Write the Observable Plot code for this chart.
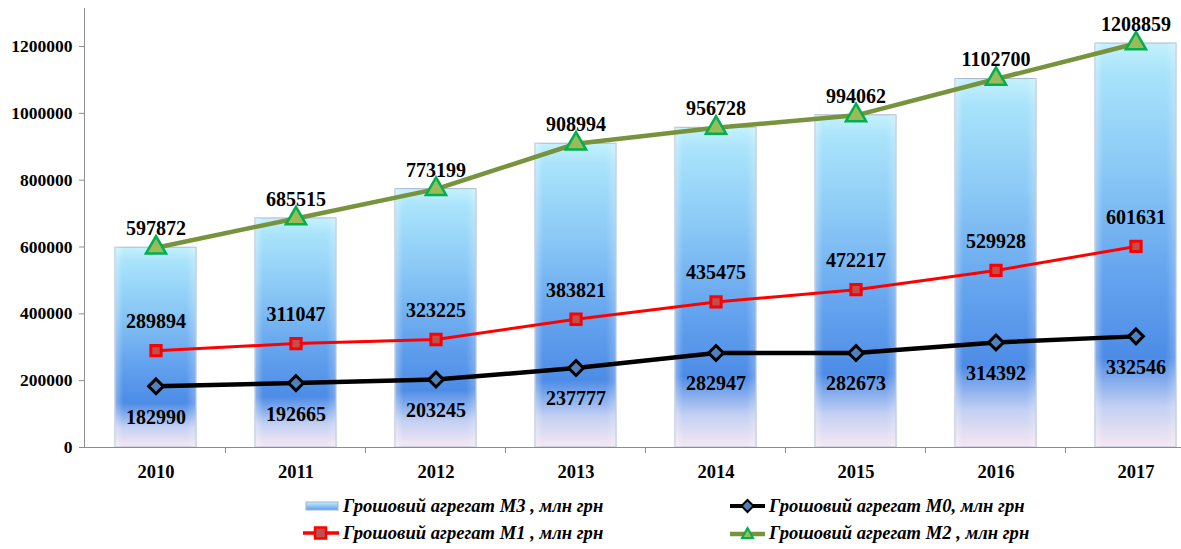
<!DOCTYPE html>
<html><head><meta charset="utf-8">
<script src="https://cdn.jsdelivr.net/npm/d3@7"></script>
<script src="https://cdn.jsdelivr.net/npm/@observablehq/plot@0.6"></script>
<style>
body{margin:0;background:#fff;font-family:"Liberation Serif","Times New Roman",serif;}
#wrap{position:relative;width:1181px;height:549px;}
#chart{position:absolute;left:0;top:0;}
.leg{position:absolute;display:flex;align-items:center;font-style:italic;font-weight:bold;font-size:18.6px;color:#000;white-space:nowrap;}
.leg svg{margin-right:3px;}
</style></head>
<body><div id="wrap"><div id="chart"></div>
<div class="leg" style="left:305px;top:495px"><svg width="35" height="14"><rect x="1" y="3" width="32" height="8" fill="url(#legGrad)" stroke="#9fb3cf" stroke-width="1"/><defs><linearGradient id="legGrad" x1="0" y1="0" x2="0" y2="1"><stop offset="0" stop-color="#c8f0fd"/><stop offset="1" stop-color="#5d9cec"/></linearGradient></defs></svg>Грошовий агрегат М3 , млн грн</div>
<div class="leg" style="left:729px;top:495px"><svg width="37" height="16"><line x1="1" y1="8" x2="36" y2="8" stroke="#000" stroke-width="4"/><path d="M18.5,2 L24.5,8 L18.5,14 L12.5,8Z" fill="#4f81bd" stroke="#000" stroke-width="2"/></svg>Грошовий агрегат М0, млн грн</div>
<div class="leg" style="left:302px;top:522px"><svg width="38" height="16"><line x1="1" y1="8" x2="37" y2="8" stroke="#ff0000" stroke-width="3.5"/><rect x="13" y="2.5" width="11" height="11" fill="#c0504d" stroke="#ff0000" stroke-width="2.5"/></svg>Грошовий агрегат М1 , млн грн</div>
<div class="leg" style="left:729px;top:522px"><svg width="37" height="16"><line x1="1" y1="9" x2="36" y2="9" stroke="#77933c" stroke-width="4.5"/><path d="M18.5,3 L24,13 L13,13Z" fill="#9bbb59" stroke="#00b050" stroke-width="2"/></svg>Грошовий агрегат М2 , млн грн</div>
</div>
<script>
const years = ["2010","2011","2012","2013","2014","2015","2016","2017"];
const m3 = [597872, 685515, 773199, 908994, 956728, 994062, 1102700, 1208859];
const m2 = [597872, 685515, 773199, 908994, 956728, 994062, 1102700, 1208859];
const m1 = [289894, 311047, 323225, 383821, 435475, 472217, 529928, 601631];
const m0 = [182990, 192665, 203245, 237777, 282947, 282673, 314392, 332546];
const yTicks = [0, 200000, 400000, 600000, 800000, 1000000, 1200000];

const rows = years.map((y, i) => ({year: y, m3: m3[i], m2: m2[i], m1: m1[i], m0: m0[i]}));
const font = "Liberation Serif, Times New Roman, serif";

// square rotated 45° (Excel-style diamond)
const diamond = {
  draw(ctx, size) {
    const r = Math.sqrt(size / Math.PI);
    ctx.moveTo(0, -r); ctx.lineTo(r, 0); ctx.lineTo(0, r); ctx.lineTo(-r, 0); ctx.closePath();
  }
};

const plot = Plot.plot({
  width: 1181,
  height: 490,
  marginLeft: 84,
  marginRight: 0,
  marginTop: 8,
  marginBottom: 43,
  style: {fontFamily: font, overflow: "visible", background: "transparent"},
  x: {domain: years, range: [84, 1207], paddingInner: 0.42, paddingOuter: 0.21, label: null},
  y: {domain: [0, 1313716], label: null},
  marks: [
    Plot.barY(rows, {x: "year", y: "m3", fill: "url(#barGrad)", stroke: "#a9b8cf", strokeWidth: 1}),
    Plot.barY(rows, {x: "year", y: "m3", fill: "url(#edgeGrad)"}),
    Plot.frame({anchor: "left", stroke: "#8c8c8c"}),
    Plot.frame({anchor: "bottom", stroke: "#8c8c8c"}),
    Plot.axisY({ticks: yTicks, tickFormat: d => String(d), tickSize: 5, tickPadding: 7, stroke: "#8c8c8c", fontSize: 17.5, fontWeight: "bold", fill: "#000"}),
    Plot.axisX({tickSize: 0, tickPadding: 17, fontSize: 18.5, fontWeight: "bold", fill: "#000"}),
    Plot.line(rows, {x: "year", y: "m2", stroke: "#77933c", strokeWidth: 4.5}),
    Plot.line(rows, {x: "year", y: "m1", stroke: "#ff0000", strokeWidth: 3}),
    Plot.line(rows, {x: "year", y: "m0", stroke: "#000000", strokeWidth: 4.5}),
    Plot.dot(rows, {x: "year", y: "m2", symbol: "triangle", r: 7.5, fill: "#9bbb59", stroke: "#00b050", strokeWidth: 2.5}),
    Plot.dot(rows, {x: "year", y: "m1", symbol: "square", r: 5.8, fill: "#c0504d", stroke: "#ff0000", strokeWidth: 3}),
    Plot.dot(rows, {x: "year", y: "m0", symbol: diamond, r: 7.4, fill: "#4f81bd", stroke: "#000", strokeWidth: 3}),
    Plot.text(rows, {x: "year", y: "m2", text: d => String(d.m2), dy: -19, fontSize: 20, fontWeight: "bold", fill: "#000"}),
    Plot.text(rows, {x: "year", y: "m1", text: d => String(d.m1), dy: -29, fontSize: 20, fontWeight: "bold", fill: "#000"}),
    Plot.text(rows, {x: "year", y: "m0", text: d => String(d.m0), dy: 31, fontSize: 20, fontWeight: "bold", fill: "#000"})
  ]
});

// gradient defs for bars
const svg = d3.select(plot);
const defs = svg.insert("defs", ":first-child");
const g = defs.append("linearGradient").attr("id", "barGrad").attr("x1", 0).attr("y1", 0).attr("x2", 0).attr("y2", 1);
[[0, "#c4f1fd"], [0.07, "#a9e3fb"], [0.3, "#8ccaf6"], [0.58, "#64a3ee"], [0.78, "#4d8ce6"], [0.9, "#c3d0f3"], [1, "#f6e7f2"]]
  .forEach(([o, c]) => g.append("stop").attr("offset", o).attr("stop-color", c));
const e = defs.append("linearGradient").attr("id", "edgeGrad").attr("x1", 0).attr("y1", 0).attr("x2", 1).attr("y2", 0);
[[0, "#ffffff", 0.35], [0.1, "#ffffff", 0.0], [0.88, "#ffffff", 0.0], [1, "#ffffff", 0.25]]
  .forEach(([o, c, a]) => e.append("stop").attr("offset", o).attr("stop-color", c).attr("stop-opacity", a));

// category boundary ticks on the x axis
const xs = plot.scale("x");
const ys = plot.scale("y");
const y0 = ys.apply(0);
const tg = svg.append("g").attr("stroke", "#8c8c8c");
years.slice(1).forEach(yr => {
  const bx = xs.apply(yr) - (xs.step - xs.bandwidth) / 2;
  tg.append("line").attr("x1", bx).attr("x2", bx).attr("y1", y0).attr("y2", y0 + 6);
});
document.getElementById("chart").appendChild(plot);
</script>
</body></html>
